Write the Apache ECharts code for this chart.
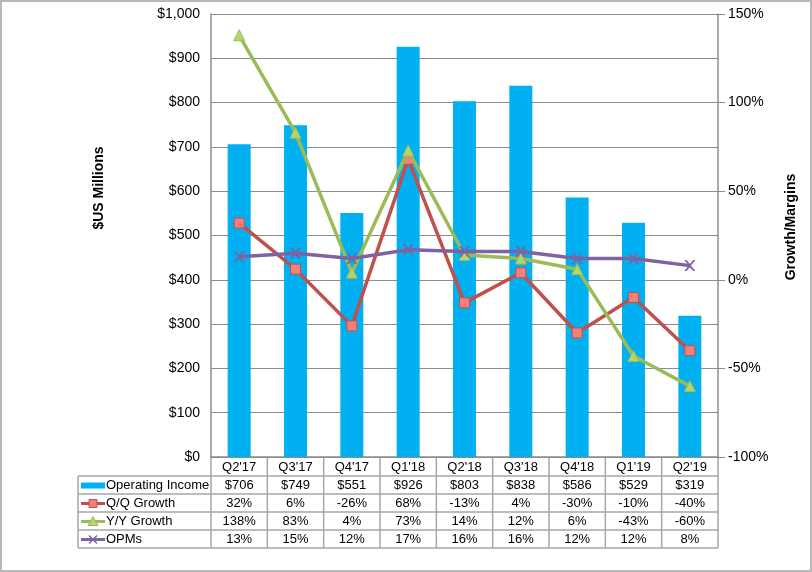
<!DOCTYPE html>
<html><head><meta charset="utf-8">
<script src="https://cdn.jsdelivr.net/npm/echarts@6/dist/echarts.min.js"></script>
<style>
html,body{margin:0;padding:0;background:#fff;}
#wrap{position:absolute;left:0;top:0;width:808px;height:568px;border:2px solid #b8b8b8;}
#c{position:absolute;left:-2px;top:-2px;width:812px;height:572px;}
</style></head>
<body><div id="wrap"><div id="c"></div></div>
<script>
const categories = ["Q2'17","Q3'17","Q4'17","Q1'18","Q2'18","Q3'18","Q4'18","Q1'19","Q2'19"];
const opIncome = [706,749,551,926,803,838,586,529,319];
const qqGrowth = [32,6,-26,68,-13,4,-30,-10,-40];
const yyGrowth = [138,83,4,73,14,12,6,-43,-60];
const opms = [13,15,12,17,16,16,12,12,8];
const seriesNames = ["Operating Income","Q/Q Growth","Y/Y Growth","OPMs"];
const leftAxisTitle = '$US Millions';
const rightAxisTitle = 'Growth/Margins';

const C_BAR = '#00B0F0', C_QQ = '#C0504D', C_YY = '#9BBB59', C_OPM = '#7F62A1';
const FONT = 'Liberation Sans, Arial, sans-serif';
const GL = 211, GT = 14, GW = 507, GH = 443;
const TABLE_LEFT = 78, ROW_H = 18;
const colW = GW / categories.length;

const chart = echarts.init(document.getElementById('c'));

const rows = [
  opIncome.map(v => '$' + v),
  qqGrowth.map(v => v + '%'),
  yyGrowth.map(v => v + '%'),
  opms.map(v => v + '%')
];
const lineCol = '#a6a6a6';
const g = [];
const bottom = GT + GH;
const tableBottom = bottom + ROW_H + rows.length * ROW_H + 1;
for (let r = 0; r <= rows.length; r++) {
  const y = bottom + ROW_H + 1 + r * ROW_H;
  g.push({type:'line', shape:{x1:TABLE_LEFT, y1:y, x2:GL+GW, y2:y}, style:{stroke:lineCol, lineWidth:1.5}, silent:true});
}
for (let i = 0; i <= categories.length; i++) {
  const x = GL + i * colW;
  g.push({type:'line', shape:{x1:x, y1:bottom, x2:x, y2:tableBottom}, style:{stroke:lineCol, lineWidth:1.5}, silent:true});
}
g.push({type:'line', shape:{x1:TABLE_LEFT, y1:bottom+ROW_H+1, x2:TABLE_LEFT, y2:tableBottom}, style:{stroke:lineCol, lineWidth:1.5}, silent:true});
rows.forEach((row, r) => {
  const cy = bottom + ROW_H + 1 + r * ROW_H + ROW_H / 2 + 0.5;
  row.forEach((t, i) => {
    g.push({type:'text', x: GL + (i + 0.5) * colW, y: cy, silent:true,
      style:{text:t, fill:'#000', font:'13px ' + FONT, textAlign:'center', textVerticalAlign:'middle'}});
  });
  const kx1 = TABLE_LEFT + 3, kx2 = TABLE_LEFT + 27;
  if (r === 0) {
    g.push({type:'rect', shape:{x:kx1, y:cy-3, width:24, height:6}, style:{fill:C_BAR}, silent:true});
  } else {
    const col = [null, C_QQ, C_YY, C_OPM][r];
    g.push({type:'line', shape:{x1:kx1, y1:cy, x2:kx2, y2:cy}, style:{stroke:col, lineWidth:3}, silent:true});
    const mx = (kx1 + kx2) / 2;
    if (r === 1) g.push({type:'rect', shape:{x:mx-4, y:cy-4, width:8, height:8}, style:{fill:'#F4807C', stroke:C_QQ, lineWidth:1}, silent:true});
    if (r === 2) g.push({type:'polygon', shape:{points:[[mx,cy-5],[mx+5,cy+4],[mx-5,cy+4]]}, style:{fill:'#B5D46A', stroke:C_YY, lineWidth:1}, silent:true});
    if (r === 3) {
      g.push({type:'line', shape:{x1:mx-4,y1:cy-4,x2:mx+4,y2:cy+4}, style:{stroke:C_OPM, lineWidth:1.5}, silent:true});
      g.push({type:'line', shape:{x1:mx-4,y1:cy+4,x2:mx+4,y2:cy-4}, style:{stroke:C_OPM, lineWidth:1.5}, silent:true});
    }
  }
  g.push({type:'text', x: kx2 + 1, y: cy, silent:true,
    style:{text:seriesNames[r], fill:'#000', font:'13px ' + FONT, textAlign:'left', textVerticalAlign:'middle'}});
});
// axis titles
g.push({type:'text', x: 99, y: 188, rotation: Math.PI / 2, silent:true,
  style:{text:leftAxisTitle, fill:'#000', font:'bold 14px ' + FONT, textAlign:'center', textVerticalAlign:'middle'}});
g.push({type:'text', x: 791, y: 227, rotation: Math.PI / 2, silent:true,
  style:{text:rightAxisTitle, fill:'#000', font:'bold 14px ' + FONT, textAlign:'center', textVerticalAlign:'middle'}});

const markerX = 'path://M0,0 L2,0 L5,3.5 L8,0 L10,0 L6,5 L10,10 L8,10 L5,6.5 L2,10 L0,10 L4,5 Z';

chart.setOption({
  animation: false,
  grid: {left: GL, top: GT, width: GW, height: GH},
  xAxis: {
    type: 'category', data: categories,
    axisLine: {show: true, lineStyle: {color: '#8c8c8c', width: 1.5}},
    axisTick: {show: false},
    axisLabel: {color: '#000', fontSize: 13, fontFamily: FONT, margin: 4, interval: 0}
  },
  yAxis: [
    {type: 'value', min: 0, max: 1000, interval: 100,
     axisLine: {show: true, lineStyle: {color: '#8c8c8c', width: 1.5}},
     axisTick: {show: false},
     splitLine: {show: true, lineStyle: {color: '#8c8c8c', width: 1}},
     axisLabel: {color: '#000', fontSize: 14, fontFamily: FONT, margin: 11,
       formatter: v => '$' + v.toLocaleString('en-US')}},
    {type: 'value', min: -100, max: 150, interval: 50, position: 'right',
     axisLine: {show: true, lineStyle: {color: '#8c8c8c', width: 1.5}},
     axisTick: {show: true, inside: false, length: 7, lineStyle: {color: '#8c8c8c'}},
     splitLine: {show: false},
     axisLabel: {color: '#000', fontSize: 14, fontFamily: FONT, margin: 10,
       formatter: v => v + '%'}}
  ],
  series: [
    {name: seriesNames[0], type: 'bar', data: opIncome, barWidth: 23, yAxisIndex: 0,
     itemStyle: {color: C_BAR}},
    {name: seriesNames[1], type: 'line', data: qqGrowth, yAxisIndex: 1,
     lineStyle: {color: C_QQ, width: 3.5}, symbol: 'rect', symbolSize: 10,
     itemStyle: {color: '#F4807C', borderColor: C_QQ, borderWidth: 1}, z: 3},
    {name: seriesNames[2], type: 'line', data: yyGrowth, yAxisIndex: 1,
     lineStyle: {color: C_YY, width: 3.5}, symbol: 'triangle', symbolSize: 11,
     itemStyle: {color: '#B5D46A', borderColor: C_YY, borderWidth: 1}, z: 4},
    {name: seriesNames[3], type: 'line', data: opms, yAxisIndex: 1,
     lineStyle: {color: C_OPM, width: 3.5}, symbol: markerX, symbolSize: 11,
     itemStyle: {color: C_OPM}, z: 5}
  ],
  graphic: g
});
</script></body></html>
